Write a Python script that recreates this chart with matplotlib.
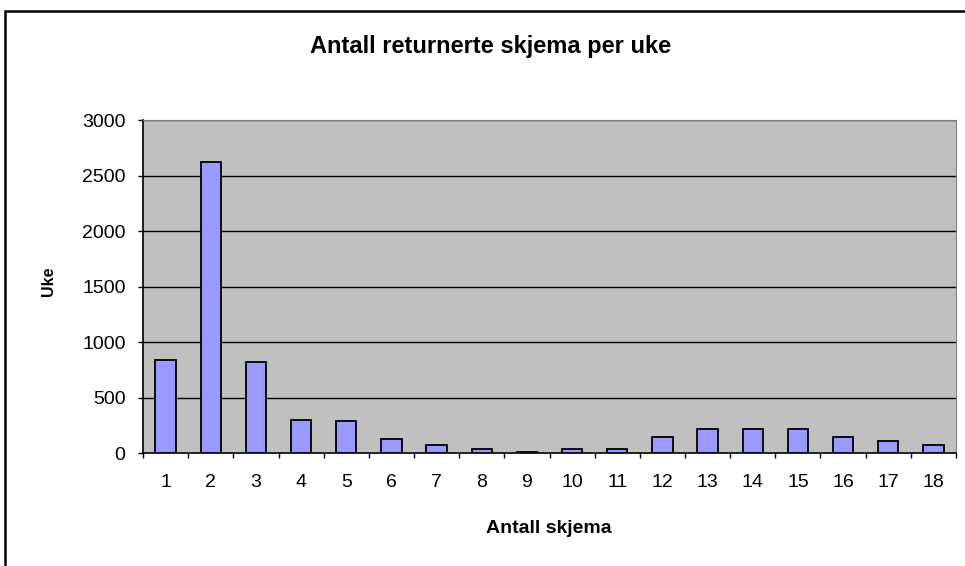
import numpy as np
import matplotlib
matplotlib.use('Agg')
import matplotlib.pyplot as plt
from matplotlib.patches import Rectangle

plt.rcParams['font.family'] = ['Liberation Sans', 'DejaVu Sans']

# Data
antall_skjema = list(range(1, 19))
uker = [840, 2620, 820, 300, 285, 125, 70, 35, 10, 35, 35, 140, 215, 215, 215, 140, 105, 70]
yticks = [0, 500, 1000, 1500, 2000, 2500, 3000]

title = 'Antall returnerte skjema per uke'
xlabel = 'Antall skjema'
ylabel = 'Uke'

fig = plt.figure(figsize=(9.65, 5.66), dpi=100)

# outer chart frame (clipped by the picture on the right and bottom)
fig.patches.append(Rectangle((5 / 965, -0.05), 1.2, 1 - 11 / 566 + 0.05,
                             transform=fig.transFigure, fill=False,
                             edgecolor='black', linewidth=1.8))

ax = fig.add_axes([143 / 965, 1 - 453 / 566, 813 / 965, 333 / 566])
ax.set_facecolor('#C0C0C0')

x = np.arange(len(antall_skjema)) + 1
ax.bar(x, uker, width=0.45, color='#9999FF', edgecolor='black', linewidth=1.3, zorder=3)

ax.set_xlim(0.5, len(antall_skjema) + 0.5)
ax.set_ylim(0, 3000)
ax.set_yticks(yticks)
ax.set_yticklabels([str(v) for v in yticks], fontsize=14)
for v in yticks[1:]:
    ax.axhline(v, color='black', linewidth=1.0, zorder=1)

# category labels centered, tick marks between categories
ax.set_xticks(x)
ax.set_xticklabels([str(v) for v in antall_skjema], fontsize=14)
ax.tick_params(axis='x', length=0, pad=15)
ax.set_xticks(np.arange(0.5, len(antall_skjema) + 1, 1), minor=True)
ax.tick_params(axis='x', which='minor', length=3.6, width=1, color='black', direction='out')
ax.tick_params(axis='y', length=3.6, width=1, direction='out', pad=9)

for side in ['top', 'right']:
    ax.spines[side].set_color('#808080')
for side in ['left', 'bottom']:
    ax.spines[side].set_color('black')
    ax.spines[side].set_linewidth(1.2)

fig.text(491 / 965, 1 - 53 / 566, title, ha='center', va='baseline',
         fontsize=17, fontweight='bold')
fig.text(549 / 965, 1 - 533 / 566, xlabel, ha='center', va='baseline',
         fontsize=14, fontweight='bold')
fig.text(48 / 965, 1 - 281 / 566, ylabel, ha='center', va='center',
         fontsize=11.5, fontweight='bold', rotation=90)

fig.savefig('out.png', dpi=100, facecolor='white')
